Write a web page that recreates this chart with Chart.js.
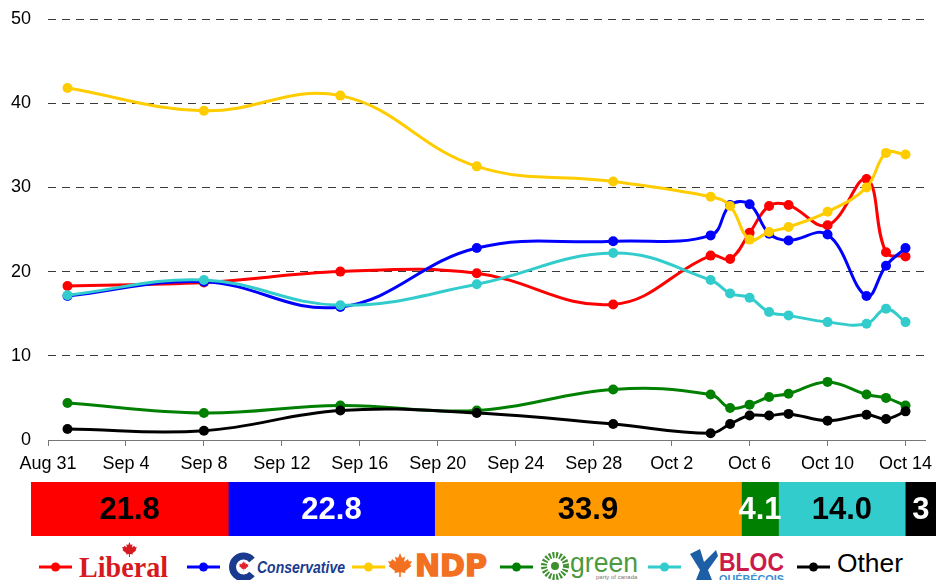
<!DOCTYPE html>
<html>
<head>
<meta charset="utf-8">
<script src="https://cdn.jsdelivr.net/npm/chart.js@4.4.0/dist/chart.umd.min.js"></script>
<style>
  body { margin: 0; background: #fff; font-family: "Liberation Sans", Arial, sans-serif; }
  #wrap { position: relative; width: 936px; height: 580px; overflow: hidden; }
  #lineBox { position: absolute; left: 0; top: 0; }
  #barBox { position: absolute; left: 31px; top: 482px; }
  #legend { position: absolute; left: 0; top: 540px; }
</style>
</head>
<body>
<div id="wrap">
  <canvas id="lineBox" width="936" height="480"></canvas>
  <canvas id="barBox" width="905" height="54"></canvas>
  <svg id="legend" width="936" height="40" xmlns="http://www.w3.org/2000/svg"></svg>
</div>
<script>
// poll dates as days after Aug 31
const pollDays = [1, 8, 15, 22, 29, 34, 35, 36, 37, 38, 40, 42, 43, 44];

const liberal      = [18.3, 18.7, 20.0, 19.8, 16.1, 21.9, 21.5, 24.6, 27.8, 27.9, 25.5, 31.0, 22.3, 21.8];
const conservative = [17.1, 18.8, 15.8, 22.8, 23.6, 24.3, 27.9, 28.0, 24.5, 23.7, 24.4, 17.1, 20.7, 22.8];
const ndp          = [41.8, 39.1, 40.9, 32.5, 30.7, 28.9, 27.8, 23.8, 24.7, 25.3, 27.1, 30.0, 34.1, 33.9];
const green        = [4.4, 3.2, 4.1, 3.5, 6.0, 5.4, 3.8, 4.2, 5.1, 5.5, 6.9, 5.4, 5.0, 4.1];
const bloc         = [17.2, 19.0, 16.0, 18.5, 22.2, 19.0, 17.4, 16.9, 15.2, 14.8, 14.0, 13.8, 15.6, 14.0];
const other        = [1.3, 1.1, 3.5, 3.2, 1.9, 0.8, 1.9, 2.9, 2.9, 3.1, 2.3, 3.0, 2.5, 3.4];

const tickDays   = [0, 4, 8, 12, 16, 20, 24, 28, 32, 36, 40, 44];
const tickLabels = ["Aug 31", "Sep 4", "Sep 8", "Sep 12", "Sep 16", "Sep 20", "Sep 24", "Sep 28", "Oct 2", "Oct 6", "Oct 10", "Oct 14"];

const parties    = ["Liberal", "Conservative", "NDP", "Green", "Bloc", "Other"];
const series     = [liberal, conservative, ndp, green, bloc, other];
const lineColors = ["#FF0000", "#0000FF", "#FFCC00", "#008000", "#33CCCC", "#000000"];
const barColors  = ["#FF0000", "#0000FF", "#FF9900", "#008000", "#33CCCC", "#000000"];
const barText    = ["#000", "#fff", "#000", "#fff", "#000", "#fff"];

// line chart
const lineSets = series.map((vals, i) => ({
  label: parties[i],
  data: vals.map((v, j) => ({ x: pollDays[j], y: v })),
  borderColor: lineColors[i],
  backgroundColor: lineColors[i],
  borderWidth: 3,
  pointRadius: 5,
  pointBorderWidth: 0,
  pointHoverRadius: 5,
  tension: 0.4,
  order: series.length - i
}));

new Chart(document.getElementById("lineBox"), {
  type: "line",
  data: { datasets: lineSets },
  options: {
    responsive: false,
    animation: false,
    events: [],
    layout: { padding: { top: 19, right: 11, left: 0, bottom: 0 } },
    plugins: { legend: { display: false }, tooltip: { enabled: false } },
    scales: {
      x: {
        type: "linear",
        min: 0,
        max: 45,
        afterBuildTicks: (s) => { s.ticks = tickDays.map(v => ({ value: v })); },
        afterFit: (s) => { s.height = 40; s.paddingLeft = 0; s.paddingRight = 0; },
        grid: { drawOnChartArea: false, drawTicks: true, tickLength: 6, color: "#777" },
        border: { display: true, color: "#777", width: 1 },
        ticks: {
          autoSkip: false,
          maxRotation: 0,
          padding: 7,
          color: "#000",
          font: { family: "Liberation Sans", size: 18 },
          callback: (v) => tickLabels[tickDays.indexOf(v)]
        }
      },
      y: {
        min: 0,
        max: 50,
        afterFit: (s) => { s.width = 48; s.paddingTop = 0; s.paddingBottom = 0; },
        grid: {
          drawTicks: false,
          color: (c) => c.tick.value === 0 ? "rgba(0,0,0,0)" : "#3a3a3a",
          lineWidth: 1
        },
        border: { display: false, dash: [8, 6] },
        ticks: {
          stepSize: 10,
          padding: 17,
          color: "#000",
          font: { family: "Liberation Sans", size: 18 }
        }
      }
    }
  }
});

// latest-poll stacked bar
const latest = series.map(s => s[s.length - 1]);

const barLabelPlugin = {
  id: "barLabels",
  afterDatasetsDraw(chart) {
    const ctx = chart.ctx;
    ctx.save();
    ctx.font = "bold 31px 'Liberation Sans', Arial, sans-serif";
    ctx.textBaseline = "middle";
    chart.data.datasets.forEach((ds, i) => {
      const bar = chart.getDatasetMeta(i).data[0];
      const left = Math.min(bar.x, bar.base), right = Math.max(bar.x, bar.base);
      const w = right - left;
      let txt = ds.data[0].toFixed(1);
      ctx.fillStyle = barText[i];
      if (w < 32) {
        txt = String(Math.floor(ds.data[0]));
        ctx.textAlign = "left";
        ctx.fillText(txt, left + 7, bar.y + 1);
      } else {
        ctx.textAlign = "center";
        ctx.fillText(txt, (left + right) / 2, bar.y + 1);
      }
    });
    ctx.restore();
  }
};

new Chart(document.getElementById("barBox"), {
  type: "bar",
  data: {
    labels: [""],
    datasets: latest.map((v, i) => ({
      label: parties[i],
      data: [v],
      backgroundColor: barColors[i],
      borderWidth: 0,
      barPercentage: 1,
      categoryPercentage: 1
    }))
  },
  options: {
    indexAxis: "y",
    responsive: false,
    animation: false,
    events: [],
    layout: { padding: 0 },
    plugins: { legend: { display: false }, tooltip: { enabled: false } },
    scales: {
      x: { display: false, stacked: true, min: 0, max: 100 },
      y: { display: false, stacked: true }
    }
  },
  plugins: [barLabelPlugin]
});

// legend with party marks
const leaf = "M12 0 L14 5 L17 3.5 L16 9 L20 6 L21 8.5 L24 8 L22 12 L23.5 13 L17 18 L17.5 20 L12.8 19.3 L12.8 24 L11.2 24 L11.2 19.3 L6.5 20 L7 18 L0.5 13 L2 12 L0 8 L3 8.5 L4 6 L8 9 L7 3.5 L10 5 Z";
const markerX = [39, 187, 352, 500, 648, 797];
let svg = "";
markerX.forEach((x, i) => {
  svg += `<line x1="${x}" y1="27" x2="${x + 33}" y2="27" stroke="${lineColors[i]}" stroke-width="3"/>`;
  svg += `<circle cx="${x + 16.5}" cy="27" r="4.5" fill="${lineColors[i]}"/>`;
});
// Liberal
svg += `<text x="79" y="37" font-family="Liberation Serif" font-weight="bold" font-size="29" fill="#d71920" textLength="89" lengthAdjust="spacingAndGlyphs">Liberal</text>`;
svg += `<path d="${leaf}" fill="#d71920" transform="translate(122,2) scale(0.62)"/>`;
// Conservative
svg += `<path d="M252 20 A11 11 0 1 0 252 34" stroke="#1a3a8f" stroke-width="7" fill="none"/>`;
svg += `<path d="${leaf}" fill="#e4202a" transform="translate(239,21) scale(0.4)"/>`;
svg += `<text x="257" y="33" font-family="Liberation Sans Narrow, Liberation Sans" font-style="italic" font-weight="bold" font-size="17" fill="#1a3a8f" textLength="88" lengthAdjust="spacingAndGlyphs">Conservative</text>`;
// NDP
svg += `<path d="${leaf}" fill="#f37021" transform="translate(388,13) scale(1.0)"/>`;
svg += `<text x="415" y="36" font-family="DejaVu Sans" font-weight="bold" font-size="30" fill="#f37021" stroke="#f37021" stroke-width="1.5" textLength="72" lengthAdjust="spacingAndGlyphs">NDP</text>`;
// Green
svg += `<circle cx="555" cy="26" r="11" fill="none" stroke="#3f8f2f" stroke-width="6" stroke-dasharray="2 1.5"/>`;
svg += `<circle cx="555" cy="26" r="4" fill="#3f8f2f"/>`;
svg += `<text x="570" y="32" font-family="Liberation Sans" font-size="27" fill="#4c9a3f" textLength="68" lengthAdjust="spacingAndGlyphs">green</text>`;
svg += `<text x="596" y="39" font-family="Liberation Sans" font-size="6" fill="#777">party of canada</text>`;
// Bloc
svg += `<path d="M690 14 L700 9 L704 22 L716 10 L718 16 L708 30 L712 40 L696 40 L700 30 Z" fill="#1d5fa6"/>`;
svg += `<text x="719" y="31" font-family="Liberation Sans" font-weight="bold" font-size="26" fill="#cc1a4a" textLength="65" lengthAdjust="spacingAndGlyphs">BLOC</text>`;
svg += `<text x="719" y="43" font-family="Liberation Sans" font-weight="bold" font-size="11" fill="#3a8fd0" textLength="65" lengthAdjust="spacingAndGlyphs">QUÉBÉCOIS</text>`;
// Other
svg += `<text x="837" y="32" font-family="Liberation Sans" font-size="25" fill="#000" textLength="66" lengthAdjust="spacingAndGlyphs">Other</text>`;
document.getElementById("legend").innerHTML = svg;
</script>
</body>
</html>
